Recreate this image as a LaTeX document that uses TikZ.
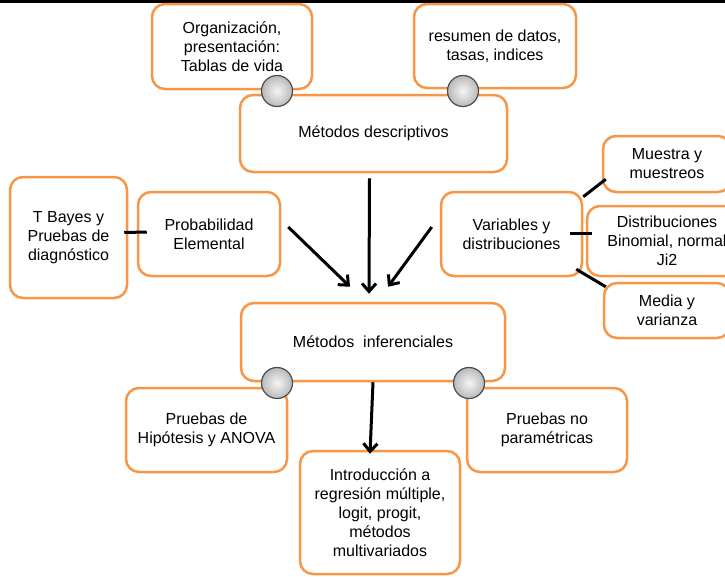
\documentclass[tikz,border=0pt]{standalone}
\usepackage{fontspec}
\setmainfont{Liberation Sans}
\usepackage{tikz}
\usetikzlibrary{arrows.meta}
\definecolor{naranja}{RGB}{247,150,70}

\begin{document}
\begin{tikzpicture}[x=1pt,y=-1pt,
  caja/.style={draw=naranja, line width=2.5pt, rounded corners=13pt, fill=white,
    align=center, inner sep=0pt, font=\fontsize{16}{19}\selectfont},
  bola/.style={circle, draw=gray!60!black, line width=1.2pt, inner color=gray!8,
    outer color=gray!55, minimum size=31pt, inner sep=0pt},
  flecha/.style={line width=3pt, -{Straight Barb[length=8pt,width=14pt]}},
  raya/.style={line width=3pt}]
\useasboundingbox (0,0) rectangle (725,576);
\fill (0,0) rectangle (725,3);

%-------------------------------------
\node[caja, minimum width=160, minimum height=85] (org) at (232,46.5)
  {Organización,\\presentación:\\Tablas de vida};
\node[caja, minimum width=162, minimum height=84] (res) at (495,46)
  {resumen de datos,\\tasas, indices};
\node[caja, minimum width=267, minimum height=77] (desc) at (373.5,133.5)
  {Métodos descriptivos};

\node[caja, minimum width=117, minimum height=121] (tb) at (68.5,237.5)
  {T Bayes y\\Pruebas de\\diagnóstico};
\node[caja, minimum width=142, minimum height=84] (prob) at (209,234)
  {Probabilidad\\Elemental};
\node[caja, minimum width=141, minimum height=84] (var) at (511.5,234)
  {Variables y\\distribuciones};
\node[caja, minimum width=128, minimum height=56] (mue) at (667,164)
  {Muestra y\\muestreos};
\node[caja, minimum width=160, minimum height=70] (dist) at (667,241)
  {Distribuciones\\Binomial, normal\\Ji2};
\node[caja, minimum width=126, minimum height=55] (med) at (667,310.5)
  {Media y\\varianza};

%-------------------------------------
\node[caja, minimum width=264, minimum height=78] (inf) at (373,342)
  {Métodos\ \ inferenciales};
\node[caja, minimum width=161, minimum height=84] (hip) at (206.5,430)
  {Pruebas de\\Hipótesis y ANOVA};
\node[caja, minimum width=160, minimum height=84] (nop) at (547,430)
  {Pruebas no\\paramétricas};
\node[caja, minimum width=160, minimum height=123] (intro) at (380,512.5)
  {Introducción a\\regresión múltiple,\\logit, progit,\\métodos\\multivariados};

\node[bola] (k1) at (277,91) {};
\node[bola] (k2) at (463,91) {};
\node[bola] (k3) at (277,383) {};
\node[bola] (k4) at (469,383) {};

%-------------------------------------
\draw[raya] ([shift={(-4,-5)}]tb.east) -- ([shift={(10,-2)}]prob.west);
\draw[raya] ([shift={(0,6)}]var.north east) -- ([shift={(4,-14)}]mue.south west);
\draw[raya] ([shift={(-13,-1)}]var.east) -- ([shift={(6,-8)}]dist.west);
\draw[raya] ([shift={(-7,-8)}]var.south east) -- ([shift={(3,5)}]med.north west);

\draw[flecha] ([shift={(-4,5)}]desc.south) -- ([shift={(-4,-8)}]inf.north);
\draw[flecha] ([shift={(7,-7)}]prob.east) -- ([shift={(-23,-15)}]inf.north);
\draw[flecha] ([shift={(-8,-7)}]var.west) -- ([shift={(15,-15)}]inf.north);
\draw[flecha] (inf.south) -- ([shift={(-10,4)}]intro.north);
\end{tikzpicture}
\end{document}
